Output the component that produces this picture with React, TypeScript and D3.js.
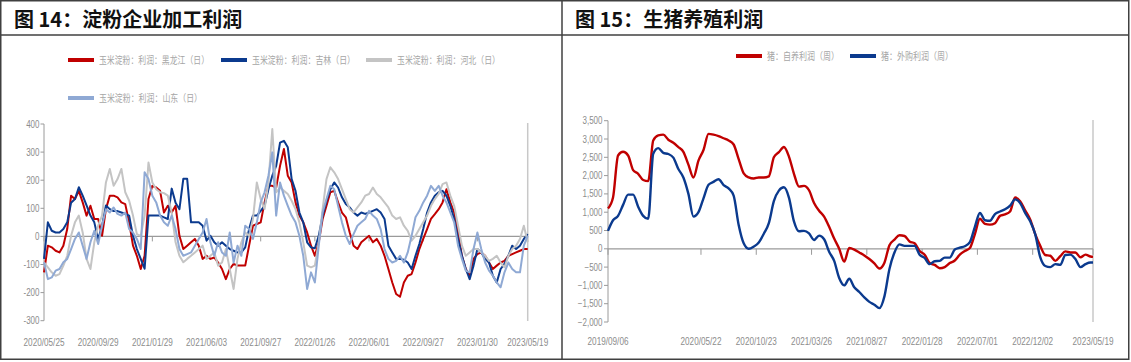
import * as d3 from "d3";
import React from "react";

// 图14 淀粉企业加工利润 (sampled trading days, 2020/05/25 - 2023/05/19)
const starchTickLabels = [
  "2020/05/25", "2020/09/29", "2021/01/29", "2021/06/03", "2021/09/27",
  "2022/01/26", "2022/06/01", "2022/09/27", "2023/01/30", "2023/05/19",
];
const heilongjiang = [
  -128, -33, -39, -51, -57, -33, 26, 145, 133, 162, 121, 74, 109, 62, 62, 2, 97, 145, 145, 139,
  121, 115, 50, -33, -69, -116, -69, 133, 180, 174, 162, 85, 109, 85, 109, 2, -45, -33, -21, -9,
  -33, -80,
  -69, -80, -75, -93, -116, -152, -116, -98, -104, -104, -104, -33, 38, 44, 50, 121, 180, 180, 174, 251,
  311, 216, 192, 121, 74, 50, 14, -33, -69, -21, 62, 109, 157, 162, 121, 85, 68, 14, -33, -45,
  -21, -9,
  2, -21, -9, -33, -69, -116, -164, -205, -215, -164, -140, -134, -93, -45, -9, 26, 62, 79, 97, 121,
  168, 121, 85, 14, -69, -116, -140, -80, -63, -57, -69, -93, -116, -104, -93, -87, -69, -63, -57, -51,
  -45, -45,
];
const jilin = [
  -80, 50, 20, 14, 14, 26, 50, 120, 133, 175, 145, 110, 74, 50, -10, 38, 110, 97, 90, 90,
  85, 80, 74, 2, -45, -80, -115, 74, 74, 74, 74, 68, 62, 170, 120, 97, 205, 205, 50, 50,
  50, 38,
  -15, 2, -21, -33, -21, -33, -45, -51, -57, -57, -39, 26, 74, 74, 91, 109, 168, 216, 251, 334,
  340, 317, 204, 162, 85, 50, -21, -39, -42, 2, 74, 127, 168, 192, 174, 139, 115, 103, 85, 74,
  85, 80,
  85, 91, 97, 85, 62, -33, -57, -80, -80, -83, -93, -116, -69, -27, 26, 85, 121, 145, 157, 162,
  145, 109, 62, -9, -69, -116, -152, -104, -45, -57, -80, -93, -140, -164, -116, -98, -69, -33, -45, -33,
  -9, 8,
];
const hebei = [
  -92, -110, -128, -140, -134, -104, -69, 2, 50, 74, 14, -80, -116, -21, 38, 74, 192, 240, 180, 204,
  240, 157, 127, 74, 8, 2, 74, 263, 192, 168, 157, 154, 145, 85, -21, -69, -92, -80, -69, -57,
  -45, -33,
  -80, -69, -57, -104, -93, -45, -116, -187, -80, -21, 14, 2, 62, 192, 133, 97, 192, 382, 157, 174,
  162, 151, 127, 97, 50, -21, -104, -110, -104, -21, 97, 204, 246, 228, 204, 168, 133, 97, 85, 103,
  121, 145,
  151, 174, 151, 139, 121, 103, 74, 62, 68, 38, 20, -15, 2, 26, 50, 74, 109, 133, 151, 186,
  192, 145, 109, 38, -33, -69, -57, -45, -45, -57, -69, -87, -80, -69, -93, -110, -69, -45, -33, -9,
  38, -21,
];
const shandong = [
  -92, -152, -146, -122, -116, -92, -80, -45, -9, 14, -33, -80, -21, 20, -27, 38, 97, 85, 103, 80,
  74, 85, 26, 14, -9, -45, 228, 204, 145, 121, 74, 50, 38, 74, 26, -45, -69, -63, -57, -33,
  -9, 14,
  62, -21, -69, -21, -57, -69, 14, -93, -33, -69, 38, 26, -9, 50, 121, 157, 216, 299, 74, 192,
  145, 109, 74, 50, 2, -69, -187, -128, -164, -33, 85, 133, 180, 168, 109, 50, 2, -27, 8, 38,
  50, 62,
  91, 74, 62, 26, -45, -80, -93, -87, -69, -93, -57, 2, 68, 91, 121, 145, 180, 162, 180, 145,
  121, 85, 50, -33, -80, -122, -128, -45, 14, -45, -93, -122, -140, -164, -181, -128, -93, -116, -128, -128,
  -33, 2,
];
const starchTicks = [-300, -200, -100, 0, 100, 200, 300, 400];

// 图15 生猪养殖利润 (every other week from 2019/09/06, last point 2023/05/19)
const pigTickLabels = [
  "2019/09/06", "2020/05/22", "2020/10/23", "2021/03/26", "2021/08/27",
  "2022/01/28", "2022/07/01", "2022/12/02", "2023/05/19",
];
const pigSelfBred = [
  1100, 1400, 2550, 2650, 2550, 2150, 2050, 1880, 1850, 2960,
  3100, 3120, 2980, 2900, 2780, 2650, 2300, 1950, 2410, 2700,
  3140, 3120, 3080, 3020, 2960, 2850, 2450, 2060, 1950, 1920,
  1950, 1950, 1980, 2500, 2640, 2780, 2520, 2050, 1700, 1720,
  1600, 1250, 1040, 880, 600, 280, 0, -350, 20, -20,
  -100, -180, -280, -400, -540, -380, 100, 250, 370, 350,
  200, 150, -60, -160, -390, -440, -530, -500, -390, -320,
  -160, -60, 20, 400, 820, 680, 660, 700, 900, 940,
  1020, 1400, 1300, 1050, 800, 400, 80, -170, -190, -330,
  -200, -70, -100, -100, -230, -160, -210, -220,
];
const pigPurchased = [
  490, 780, 900, 1200, 1480, 1480, 1150, 900, 820, 2600,
  2750, 2620, 2590, 2490, 2180, 1950, 1500, 880, 1000, 1380,
  1750, 1830, 1900, 1740, 1650, 1450, 650, 150, 0, 60,
  175, 410, 700, 1300, 1590, 1680, 1400, 750, 480, 490,
  420, 240, 360, 260, -80, -330, -800, -1000, -820, -1050,
  -1180, -1330, -1450, -1530, -1620, -1300, -550, -100, 120, 80,
  80, 80, -160, -250, -420, -340, -330, -240, -240, -20,
  30, 70, 180, 600, 980, 780, 765, 950, 1020, 1080,
  1180, 1350, 1250, 980, 750, 400, -230, -470, -500, -420,
  -440, -170, -160, -280, -500, -420, -375, -375,
];
const pigTicks = [-2000, -1500, -1000, -500, 0, 500, 1000, 1500, 2000, 2500, 3000, 3500];

const RED = "#C00000";
const NAVY = "#0B3A8E";
const GRAY = "#C4C4C4";
const LIGHT = "#8FA9D4";
const AXIS = "#9A9A9A";
const LABEL = "#8C8C8C";
const CJK = "'Noto Sans CJK SC', 'Noto Sans', sans-serif";
const NUM = "'Liberation Sans', Arial, sans-serif";

const parse = d3.timeParse("%Y/%m/%d");

// narrow text: the source uses a condensed face
const Narrow = ({ x, y, anchor, children, size = 10, fill = LABEL, sx = 0.8 }: any) => (
  <text
    transform={`translate(${x},${y}) scale(${sx},1)`}
    textAnchor={anchor}
    fontSize={size}
    fill={fill}
    fontFamily={NUM}
  >
    {children}
  </text>
);

const LegendItem = ({ x, y, color, label, w }: any) => (
  <g>
    <line x1={x} x2={x + 26} y1={y} y2={y} stroke={color} strokeWidth={4} />
    <text
      x={x + 31}
      y={y + 3.5}
      fontSize={10}
      fill="#A6A6A6"
      fontFamily={CJK}
      textLength={w}
      lengthAdjust="spacingAndGlyphs"
    >
      {label}
    </text>
  </g>
);

const StarchChart = () => {
  const x = d3.scaleLinear().domain([0, heilongjiang.length - 1]).range([44, 527.7]);
  const y = d3.scaleLinear().domain([-300, 400]).range([320.7, 124]);
  const line = d3
    .line<number>()
    .x((_, i) => x(i))
    .y((d) => y(d));
  const tickIdx = d3.range(0, 126, 14).concat([125]);
  const series = [
    { data: heilongjiang, color: RED },
    { data: jilin, color: NAVY },
    { data: hebei, color: GRAY },
    { data: shandong, color: LIGHT },
  ];
  return (
    <g>
      <LegendItem x={68} y={60} color={RED} label="玉米淀粉：利润：黑龙江（日）" w={110} />
      <LegendItem x={221} y={60} color={NAVY} label="玉米淀粉：利润：吉林（日）" w={103} />
      <LegendItem x={366} y={60} color={GRAY} label="玉米淀粉：利润：河北（日）" w={103} />
      <LegendItem x={68} y={98} color={LIGHT} label="玉米淀粉：利润：山东（日）" w={103} />

      <line x1={44} x2={44} y1={y(400)} y2={y(-300)} stroke={AXIS} />
      {starchTicks.map((t) => (
        <g key={t}>
          <line x1={40.5} x2={44} y1={y(t)} y2={y(t)} stroke={AXIS} />
          <Narrow x={39.5} y={y(t) + 3.5} anchor="end">
            {t}
          </Narrow>
        </g>
      ))}
      <line x1={527.7} x2={527.7} y1={123} y2={321} stroke="#C8C8C8" strokeWidth={1.5} />
      <line x1={44} x2={527.7} y1={y(0)} y2={y(0)} stroke={AXIS} strokeWidth={1.2} />
      {tickIdx.map((i, k) => (
        <g key={i}>
          <line x1={x(i)} x2={x(i)} y1={y(0)} y2={y(0) + 5} stroke={AXIS} />
          <Narrow x={x(i)} y={346} anchor="middle" sx={0.82}>
            {starchTickLabels[k]}
          </Narrow>
        </g>
      ))}
      {series.map((s) => (
        <path
          key={s.color}
          d={line(s.data) ?? ""}
          fill="none"
          stroke={s.color}
          strokeWidth={2}
          strokeLinejoin="round"
        />
      ))}
    </g>
  );
};

const PigChart = () => {
  const start = parse("2019/09/06")!;
  const end = parse("2023/05/19")!;
  const dates = d3
    .range(0, 193, 2)
    .map((w) => d3.timeDay.offset(start, w * 7))
    .concat([end]);
  const x = d3.scaleTime().domain([start, end]).range([608, 1093]);
  const y = d3.scaleLinear().domain([-2000, 3500]).range([322, 120.7]);
  const line = d3
    .line<number>()
    .x((_, i) => x(dates[i]))
    .y((d) => y(d))
    .curve(d3.curveMonotoneX);
  const fmt = d3.format(",");
  return (
    <g>
      <LegendItem x={736} y={56} color={RED} label="猪：自养利润（周）" w={72} />
      <LegendItem x={850} y={56} color={NAVY} label="猪：外购利润（周）" w={72} />

      <line x1={608} x2={608} y1={y(3500)} y2={y(-2000)} stroke={AXIS} />
      {pigTicks.map((t) => (
        <g key={t}>
          <line x1={604} x2={608} y1={y(t)} y2={y(t)} stroke={AXIS} />
          <Narrow x={602.5} y={y(t) + 3.5} anchor="end">
            {fmt(t)}
          </Narrow>
        </g>
      ))}
      <line x1={1093} x2={1093} y1={120} y2={322} stroke="#C8C8C8" strokeWidth={1.5} />
      <line x1={608} x2={1093} y1={y(0)} y2={y(0)} stroke={AXIS} strokeWidth={1.2} />
      {pigTickLabels.map((l) => {
        const px = x(parse(l)!);
        return (
          <g key={l}>
            <line x1={px} x2={px} y1={y(0)} y2={y(0) + 6} stroke={AXIS} />
            <Narrow x={px} y={344.5} anchor="middle" sx={0.82}>
              {l}
            </Narrow>
          </g>
        );
      })}
      <path d={line(pigSelfBred) ?? ""} fill="none" stroke={RED} strokeWidth={2.4} />
      <path d={line(pigPurchased) ?? ""} fill="none" stroke={NAVY} strokeWidth={2.4} />
    </g>
  );
};

const App = () => (
  <svg
    width={1131}
    height={362}
    style={{ position: "absolute", left: 0, top: 0, background: "#fff" }}
  >
    <rect x={0.75} y={0.75} width={1128} height={358.5} fill="none" stroke="#404040" strokeWidth={1.5} />
    <line x1={0} x2={1129} y1={35} y2={35} stroke="#404040" strokeWidth={1.5} />
    <line x1={562} x2={562} y1={0} y2={360} stroke="#404040" strokeWidth={1.5} />
    <text x={14} y={27} fontSize={20} fontWeight={700} fontFamily={CJK} fill="#111">
      图 14：淀粉企业加工利润
    </text>
    <text x={575} y={27} fontSize={20} fontWeight={700} fontFamily={CJK} fill="#111">
      图 15：生猪养殖利润
    </text>
    <StarchChart />
    <PigChart />
  </svg>
);

export default App;
